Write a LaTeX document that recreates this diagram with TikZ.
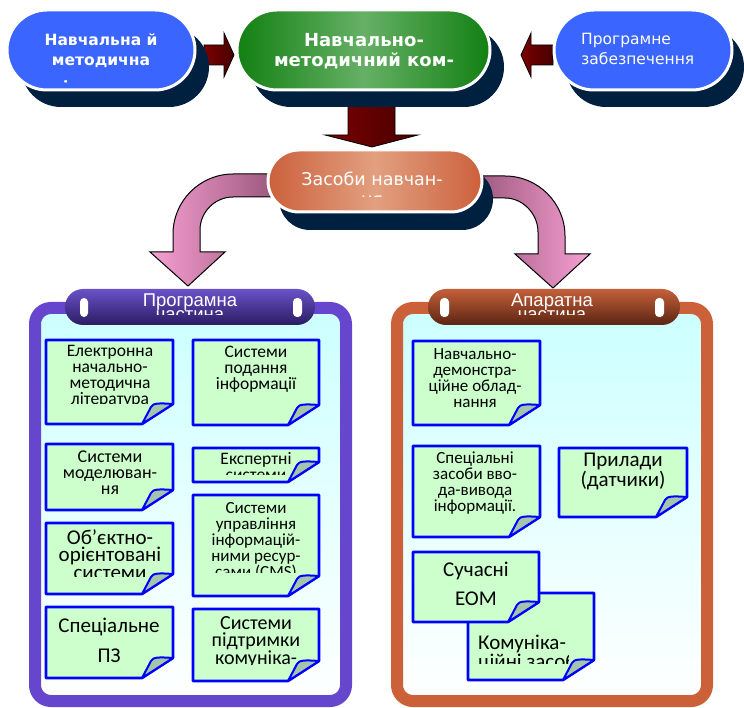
\documentclass[tikz,border=0pt]{standalone}
\usepackage{fontspec}
\setmainfont{DejaVu Sans}
\newfontfamily\notefont{Carlito}
\newfontfamily\headfont{Liberation Sans}
\definecolor{pillblue}{HTML}{3A66FF}
\definecolor{navy}{HTML}{00203F}
\definecolor{greenD}{HTML}{128012}
\definecolor{greenL}{HTML}{66B066}
\definecolor{orangeD}{HTML}{CC603C}
\definecolor{orangeL}{HTML}{E2A080}
\definecolor{redA}{HTML}{7A0000}
\definecolor{redB}{HTML}{480000}
\definecolor{pinkL}{HTML}{F7A0D2}
\definecolor{pinkD}{HTML}{9E5A80}
\definecolor{purpleP}{HTML}{6646CC}
\definecolor{orangeP}{HTML}{CC6038}
\definecolor{tabPtop}{HTML}{6A52C8}
\definecolor{tabPbot}{HTML}{2A1C62}
\definecolor{tabOtop}{HTML}{C4603A}
\definecolor{tabObot}{HTML}{5A2412}
\definecolor{cyanbg}{HTML}{CCFFFF}
\definecolor{notefillc}{HTML}{CCFFCC}
\definecolor{notelinec}{HTML}{0000FF}
\definecolor{foldfillc}{HTML}{A4C4AC}
\newcommand{\paper}[4]{%
  \path[notebody] (#1,#2) -- (#3,#2) -- (#3,#4-20) -- (#3-31,#4) -- (#1,#4) -- cycle;
  \path[notefold] (#3-31,#4) -- (#3-22,#4-17) .. controls (#3-20,#4-21) and (#3-14,#4-21) .. (#3,#4-20) -- cycle;
}
\begin{document}
\begin{tikzpicture}[x=1pt,y=-1pt,
  pill/.style={rectangle, draw=white, line width=3pt, inner sep=0pt, rounded corners=40pt, minimum height=80pt},
  pillshadow/.style={rectangle, fill=navy, inner sep=0pt, rounded corners=40pt, minimum height=80pt},
  pilltext/.style={text=white, inner sep=0pt, align=center},
  redarrow/.style={draw=black, line width=0.8pt, left color=redA, right color=redB},
  pinkarrow/.style={draw=black, line width=1pt},
  panel/.style={line width=12pt, rounded corners=16pt, top color=cyanbg, bottom color=white},
  tab/.style={rounded corners=18pt},
  hole/.style={fill=white, rounded corners=4pt},
  tabtext/.style={text=white, inner sep=0pt, align=center, font=\headfont\fontsize{18.5}{14}\selectfont},
  notebody/.style={fill=notefillc, draw=notelinec, line width=2.6pt, line join=round},
  notefold/.style={fill=foldfillc, draw=notelinec, line width=2pt, line join=round},
  notetext/.style={inner sep=0pt, align=center, anchor=north, text=black}
]
\useasboundingbox (0,0) rectangle (744,708);

% ---------- pink curved arrows ----------
\path[pinkarrow, left color=pinkL, right color=pinkD]
  (272,174) -- (233,174) .. controls (200,174) and (173,201) .. (173,234) -- (173,252)
  -- (150,252) -- (188,286) -- (225,252) -- (200,252) -- (200,230)
  .. controls (200,212) and (215,197) .. (233,197) -- (272,197) -- cycle;
\path[pinkarrow, left color=pinkD, right color=pinkL]
  (478,176) -- (505,176) .. controls (538,176) and (565,203) .. (565,236) -- (565,254)
  -- (590,254) -- (553,288) -- (515,254) -- (538,254) -- (538,232)
  .. controls (538,214) and (523,198) .. (505,198) -- (478,198) -- cycle;

% ---------- dark red block arrows ----------
\path[redarrow] (204,45) -- (224,45) -- (224,33) -- (234,55) -- (224,77) -- (224,65) -- (204,65) -- cycle;
\path[redarrow] (553,45) -- (531,45) -- (531,33) -- (521,55) -- (531,77) -- (531,65) -- (553,65) -- cycle;
\path[redarrow] (348,104) -- (395,104) -- (395,135) -- (418,135) -- (372,147) -- (325,135) -- (348,135) -- cycle;

% ---------- shadows ----------
\node[pillshadow, minimum width=188pt] (lsh) at (115,67) {};
\node[pillshadow, minimum width=253pt] (gsh) at (377.5,67) {};
\node[pillshadow, minimum width=178pt] (rsh) at (655,67) {};
\node[pillshadow, minimum width=214pt, minimum height=62pt, rounded corners=31pt] (osh) at (386,199) {};

% ---------- pills ----------
\node[pill, fill=pillblue, minimum width=188pt] (lpill) at (101,50) {};
\node[pill, left color=greenD, right color=greenD, middle color=greenL, minimum width=253pt] (gpill) at (363.5,50) {};
\node[pill, fill=pillblue, minimum width=178pt] (rpill) at (643,50) {};
\node[pill, left color=orangeD, right color=orangeD, middle color=orangeL, minimum width=214pt, minimum height=62pt, rounded corners=31pt] (opill) at (375,181) {};

\node[pilltext, anchor=north, font=\bfseries\fontsize{15.5}{20}\selectfont] (ltext) at (101,33) {Навчальна й\\методична};
\begin{scope}
  \clip (7,10) rectangle (195,82.5);
  \node[pilltext, anchor=base, font=\bfseries\fontsize{15.5}{20}\selectfont] (ltext3) at (101,93) {література};
\end{scope}
\node[pilltext, anchor=north, font=\bfseries\fontsize{18}{20}\selectfont] (gtext) at (364,33) {Навчально-\\методичний ком-};
\node[pilltext, anchor=north west, align=left, font=\fontsize{15.5}{20}\selectfont] (rtext) at (581,33) {Програмне\\забезпечення};
\begin{scope}
  \clip (268,150) rectangle (482,196.5);
  \node[pilltext, anchor=north, font=\fontsize{17.5}{20}\selectfont] (otext) at (372,172) {Засоби навчан-\\ня};
\end{scope}

% ---------- panels ----------
\path[panel, draw=purpleP] (35,308) rectangle (346,701);
\path[panel, draw=orangeP] (397,308) rectangle (707,701);

\path[tab, top color=tabPtop, bottom color=tabPbot] (65,289) rectangle (315,325);
\path[hole] (80,298) rectangle (88,317);
\path[hole] (293,298) rectangle (302,317);
\begin{scope}
  \clip (65,289) rectangle (315,315);
  \node[tabtext, anchor=north] (ptab) at (190,294) {Програмна\\частина};
\end{scope}

\path[tab, top color=tabOtop, bottom color=tabObot] (428,289) rectangle (680,325);
\path[hole] (440,298) rectangle (449,317);
\path[hole] (655,298) rectangle (664,317);
\begin{scope}
  \clip (428,289) rectangle (680,315);
  \node[tabtext, anchor=north] (atab) at (552,294) {Апаратна\\частина};
\end{scope}

% ---------- notes, left panel ----------
\paper{46}{340}{173}{424}
\begin{scope}\clip (46,340) rectangle (173,403);
  \node[notetext, font=\notefont\fontsize{17.5}{16}\selectfont] (n1) at (110,345) {Електронна\\начально-\\методична\\література};
\end{scope}
\paper{193}{340}{319}{425}
\node[notetext, font=\notefont\fontsize{17.5}{16}\selectfont] (n2) at (256,346) {Системи\\подання\\інформації};
\paper{46}{444}{173}{510}
\node[notetext, font=\notefont\fontsize{18}{16}\selectfont] (n3) at (110,451) {Системи\\моделюван-\\ня};
\paper{193}{448}{319}{482}
\begin{scope}\clip (193,448) rectangle (319,474);
  \node[notetext, font=\notefont\fontsize{17.5}{16}\selectfont] (n4) at (256,452) {Експертні\\системи};
\end{scope}
\paper{193}{495}{319}{596}
\begin{scope}\clip (193,495) rectangle (319,572);
  \node[notetext, font=\notefont\fontsize{17}{16}\selectfont] (n5) at (256,502) {Системи\\управління\\інформацій-\\ними ресур-\\сами (CMS)};
\end{scope}
\paper{46}{523}{173}{594}
\begin{scope}\clip (46,523) rectangle (173,576);
  \node[notetext, font=\notefont\fontsize{21}{17.5}\selectfont] (n6) at (110,529) {Об’єктно-\\орієнтовані\\системи};
\end{scope}
\paper{46}{607}{173}{678}
\node[notetext, font=\notefont\fontsize{21}{30}\selectfont] (n7) at (109,618) {Спеціальне\\ПЗ};
\paper{193}{609}{319}{681}
\begin{scope}\clip (193,609) rectangle (319,664);
  \node[notetext, font=\notefont\fontsize{20}{17.5}\selectfont] (n8) at (256,616) {Системи\\підтримки\\комуніка-};
\end{scope}

% ---------- notes, right panel ----------
\paper{413}{341}{540}{425}
\begin{scope}\clip (413,341) rectangle (540,407);
  \node[notetext, font=\notefont\fontsize{17}{16}\selectfont] (r1) at (475,348) {Навчально-\\демонстра-\\ційне облад-\\нання};
\end{scope}
\paper{413}{446}{540}{537}
\begin{scope}\clip (413,446) rectangle (540,514);
  \node[notetext, font=\notefont\fontsize{17}{16}\selectfont] (r2) at (475,452) {Спеціальні\\засоби вво-\\да-вивода\\інформації.};
\end{scope}
\paper{559}{448}{687}{517}
\node[notetext, font=\notefont\fontsize{21}{17.5}\selectfont] (r3) at (623,453) {Прилади\\(датчики)};
\paper{468}{593}{594}{680}
\begin{scope}\clip (468,593) rectangle (568,663);
  \node[notetext, anchor=north west, align=left, font=\notefont\fontsize{21}{17.5}\selectfont] (r5) at (478,635) {Комуніка-\\ційні засоби};
\end{scope}
\paper{413}{552}{539}{622}
\begin{scope}\clip (413,552) rectangle (539,606);
  \node[notetext, font=\notefont\fontsize{21}{29}\selectfont] (r4) at (476,562) {Сучасні\\ЕОМ};
\end{scope}
\end{tikzpicture}
\end{document}
